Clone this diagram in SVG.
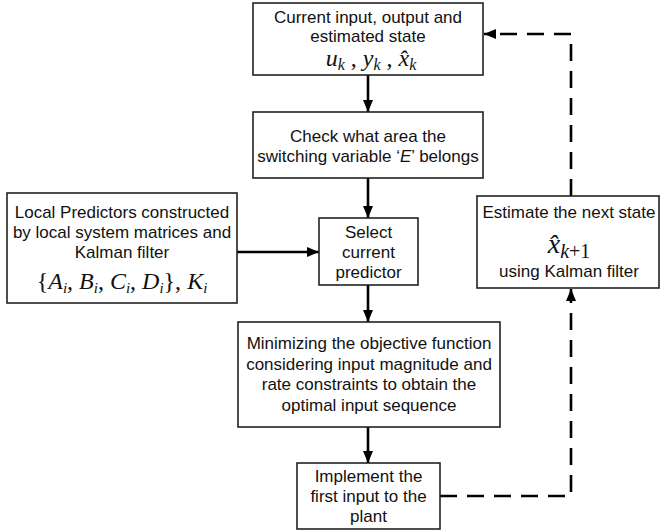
<svg xmlns="http://www.w3.org/2000/svg" width="660" height="532" viewBox="0 0 660 532">
<style>
.box{fill:#fff;stroke:#222;stroke-width:1.6}
.t{font-family:"Liberation Sans",Arial,sans-serif;font-size:17px;fill:#111;text-anchor:middle}
.m{font-family:"Liberation Serif","Times New Roman",serif;font-style:italic;fill:#111;text-anchor:middle}
.up{font-style:normal}
.ln{stroke:#000;stroke-width:2.6;fill:none}
.dash{stroke:#000;stroke-width:2.6;fill:none;stroke-dasharray:17 10}
</style>
<defs>
<marker id="ah" viewBox="0 0 12 10" refX="12" refY="5" markerWidth="12" markerHeight="10" markerUnits="userSpaceOnUse" orient="auto">
<path d="M0,0 L12,5 L0,10 Z" fill="#000"/>
</marker>
</defs>
<g id="connectors">
<line class="ln" x1="368" y1="75" x2="368" y2="112" marker-end="url(#ah)"/>
<line class="ln" x1="368" y1="178" x2="368" y2="218" marker-end="url(#ah)"/>
<line class="ln" x1="237" y1="252" x2="319" y2="252" marker-end="url(#ah)"/>
<line class="ln" x1="368" y1="285" x2="368" y2="322" marker-end="url(#ah)"/>
<line class="ln" x1="368" y1="427" x2="368" y2="463" marker-end="url(#ah)"/>
<polyline class="dash" points="440,496 571,496 571,289" marker-end="url(#ah)"/>
<polyline class="dash" points="571,196 571,34 484,34" marker-end="url(#ah)"/>
</g>
<g id="current">
<rect class="box" x="253" y="3" width="230" height="72"/>
<text class="t" x="368" y="23">Current input, output and</text>
<text class="t" x="368" y="42">estimated state</text>
<text class="m" x="371" y="66" font-size="24">u<tspan font-size="16" dy="4">k</tspan><tspan class="up" dy="-4"> , </tspan>y<tspan font-size="16" dy="4">k</tspan><tspan class="up" dy="-4"> , </tspan>x̂<tspan font-size="16" dy="4">k</tspan></text>
</g>
<g id="check">
<rect class="box" x="253" y="112" width="230" height="66"/>
<text class="t" x="368" y="142">Check what area the</text>
<text class="t" x="368" y="162">switching variable ‘<tspan font-style="italic">E</tspan>’ belongs</text>
</g>
<g id="local">
<rect class="box" x="7" y="193" width="230" height="110"/>
<text class="t" x="122" y="218">Local Predictors constructed</text>
<text class="t" x="122" y="238">by local system matrices and</text>
<text class="t" x="122" y="258">Kalman filter</text>
<text class="m" x="122" y="289" font-size="24"><tspan class="up">{</tspan>A<tspan font-size="15" dy="4">i</tspan><tspan class="up" dy="-4">, </tspan>B<tspan font-size="15" dy="4">i</tspan><tspan class="up" dy="-4">, </tspan>C<tspan font-size="15" dy="4">i</tspan><tspan class="up" dy="-4">, </tspan>D<tspan font-size="15" dy="4">i</tspan><tspan class="up" dy="-4">}, </tspan>K<tspan font-size="15" dy="4">i</tspan></text>
</g>
<g id="select">
<rect class="box" x="319" y="218" width="99" height="67"/>
<text class="t" x="368.5" y="238">Select</text>
<text class="t" x="368.5" y="258">current</text>
<text class="t" x="368.5" y="278">predictor</text>
</g>
<g id="minimize">
<rect class="box" x="238" y="322" width="262" height="105"/>
<text class="t" x="369" y="349">Minimizing the objective function</text>
<text class="t" x="369" y="370">considering input magnitude and</text>
<text class="t" x="369" y="390">rate constraints to obtain the</text>
<text class="t" x="369" y="411">optimal input sequence</text>
</g>
<g id="implement">
<rect class="box" x="297" y="463" width="143" height="66"/>
<text class="t" x="368.5" y="482">Implement the</text>
<text class="t" x="368.5" y="502">first input to the</text>
<text class="t" x="368.5" y="522">plant</text>
</g>
<g id="estimate">
<rect class="box" x="477" y="196" width="182" height="92"/>
<text class="t" x="569" y="218">Estimate the next state</text>
<text class="m" x="569" y="253" font-size="28">x̂<tspan font-size="20" dy="5">k</tspan><tspan font-size="20" class="up">+1</tspan></text>
<text class="t" x="569" y="277">using Kalman filter</text>
</g>
</svg>
